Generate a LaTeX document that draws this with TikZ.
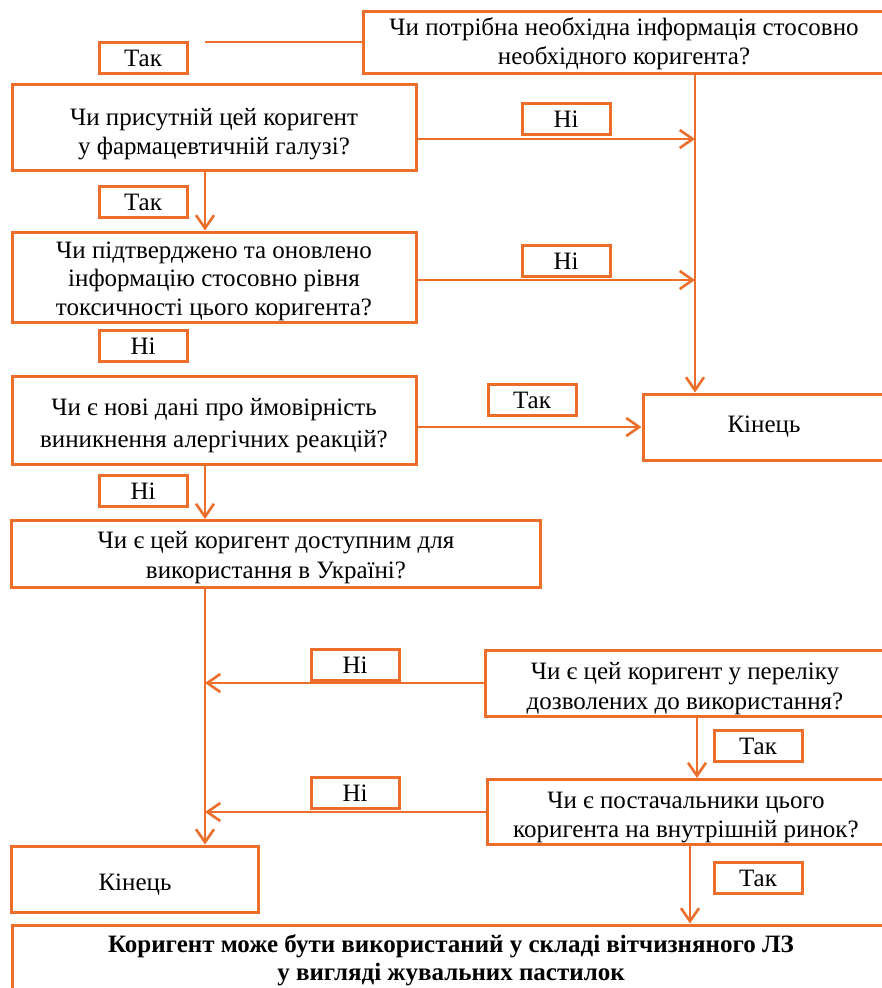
\documentclass[tikz,border=0pt]{standalone}
\usepackage{fontspec}
\setmainfont{Liberation Serif}
\usetikzlibrary{arrows.meta,positioning,calc}
\definecolor{flame}{HTML}{EC6E2A}
\newcommand{\dropline}[1]{\rule{0pt}{#1}}
\tikzset{
  qbox/.style={rectangle,draw=flame,line width=3pt,fill=white,align=center,inner sep=0pt,font=\fontsize{25}{30}\selectfont},
  tag/.style={rectangle,draw=flame,line width=3pt,fill=white,minimum width=88pt,minimum height=31pt,inner sep=0pt,font=\fontsize{25}{28}\selectfont},
  arrow/.style={-{Straight Barb[length=13pt,width=18pt,line width=2.6pt]},line width=2.6pt,flame},
  link/.style={line width=2.6pt,flame}
}

\begin{document}
\begin{tikzpicture}[x=1pt,y=-1pt]
  \useasboundingbox (0,0) rectangle (881,988);
  \coordinate (lcol) at (205,0);
  \coordinate (rcol) at (695,0);
  % questions
  \node[qbox,font=\fontsize{25}{29}\selectfont,minimum width=522pt,minimum height=62pt] (need) at (624,42) {\dropline{22pt}Чи потрібна необхідна інформація стосовно\\необхідного коригента?};
  \node[qbox,font=\fontsize{25}{29}\selectfont,minimum width=404pt,minimum height=86pt] (pharma) at (214,127) {\dropline{32pt}Чи присутній цей коригент\\у фармацевтичній галузі?};
  \node[qbox,font=\fontsize{25}{28.5}\selectfont,minimum width=404pt,minimum height=90pt] (toxic) at (214,277) {\dropline{25pt}Чи підтверджено та оновлено\\інформацію стосовно рівня\\токсичності цього коригента?};
  \node[qbox,font=\fontsize{25}{32}\selectfont,minimum width=404pt,minimum height=88pt] (allergy) at (214,420) {\dropline{28pt}Чи є нові дані про ймовірність\\виникнення алергічних реакцій?};
  \node[qbox,minimum width=242pt,minimum height=66pt] (end1) at (764,427) {Кінець};
  \node[qbox,minimum width=529pt,minimum height=67pt] (avail) at (276,554) {\dropline{24pt}Чи є цей коригент доступним для\\використання в Україні?};
  \node[qbox,minimum width=400pt,minimum height=66pt] (listed) at (685,683) {\dropline{28pt}Чи є цей коригент у переліку\\дозволених до використання?};
  \node[qbox,font=\fontsize{25}{29}\selectfont,minimum width=398pt,minimum height=65pt] (supply) at (686,812) {\dropline{27pt}Чи є постачальники цього\\коригента на внутрішній ринок?};
  \node[qbox,minimum width=247pt,minimum height=66pt] (end2) at (135,879) {\dropline{28pt}Кінець};
  \node[qbox,minimum width=878pt,minimum height=70pt,font=\fontsize{25}{28}\selectfont\bfseries] (result) at (451,960) {Коригент може бути використаний у складі вітчизняного ЛЗ\\у вигляді жувальних пастилок};
  % answers
  \node[tag] (yes0) at (143,58) {Так};
  \node[tag] (no1) at (566,119) {Ні};
  \node[tag] (yes1) at (143,202) {Так};
  \node[tag] (no2) at (566,261) {Ні};
  \node[tag] (no3) at (143,346) {Ні};
  \node[tag] (yes2) at (532,400) {Так};
  \node[tag] (no4) at (143,491) {Ні};
  \node[tag] (no5) at (355,665) {Ні};
  \node[tag] (yes3) at (758,746) {Так};
  \node[tag] (no6) at (355,793) {Ні};
  \node[tag] (yes4) at (758,878) {Так};
  % connectors
  \coordinate (topend) at (205,42);
  \draw[link] (need.west) -- (topend);
  \draw[arrow] (need.south -| rcol) -- (end1.north -| rcol);
  \draw[arrow] ([yshift=-12pt]pharma.east) -- ([yshift=-12pt]pharma.east -| rcol);
  \draw[arrow] ([yshift=-3pt]toxic.east) -- ([yshift=-3pt]toxic.east -| rcol);
  \draw[arrow] (allergy.east |- end1.west) -- (end1.west);
  \draw[arrow] (pharma.south -| lcol) -- (toxic.north -| lcol);
  \draw[arrow] (allergy.south -| lcol) -- (avail.north -| lcol);
  \draw[arrow] (avail.south -| lcol) -- (end2.north -| lcol);
  \draw[arrow] (listed.west) -- (listed.west -| lcol);
  \draw[arrow] (supply.west) -- (supply.west -| lcol);
  \draw[arrow] ([xshift=12pt]listed.south) -- ([xshift=12pt]listed.south |- supply.north);
  \draw[arrow] ([xshift=4pt]supply.south) -- ([xshift=4pt]supply.south |- result.north);
\end{tikzpicture}
\end{document}
